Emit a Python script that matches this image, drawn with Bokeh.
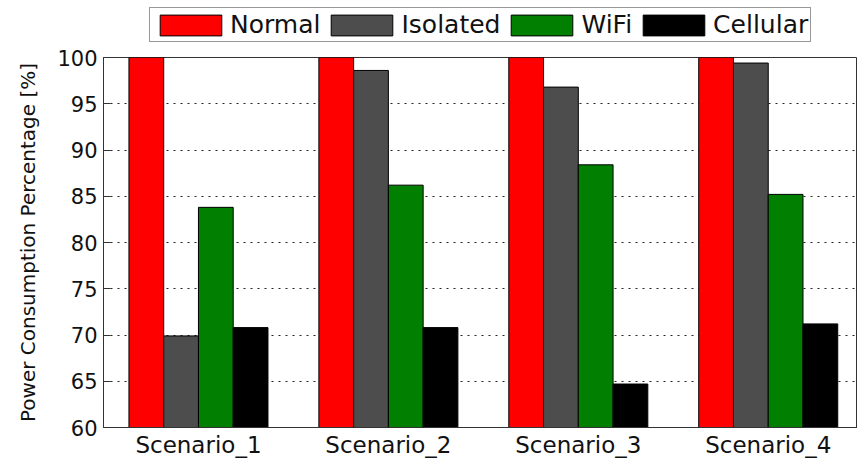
from bokeh.plotting import figure
from bokeh.layouts import column
from bokeh.models import (ColumnDataSource, FixedTicker, Legend, LegendItem,
                          Range1d)
from bokeh.transform import dodge
from bokeh.embed import file_html
from bokeh.resources import INLINE

scenarios = ["Scenario_1", "Scenario_2", "Scenario_3", "Scenario_4"]
normal = [100.0, 100.0, 100.0, 100.0]
isolated = [69.9, 98.6, 96.8, 99.4]
wifi = [83.8, 86.2, 88.4, 85.2]
cellular = [70.8, 70.8, 64.7, 71.2]
series_names = ["Normal", "Isolated", "WiFi", "Cellular"]
colors = ["#ff0000", "#4d4d4d", "#007f00", "#000000"]
y_ticks = [60, 65, 70, 75, 80, 85, 90, 95, 100]

FONT = "DejaVu Sans"
positions = list(range(1, len(scenarios) + 1))
source = ColumnDataSource(dict(x=positions, Normal=normal, Isolated=isolated,
                               WiFi=wifi, Cellular=cellular))
bar_w = 0.183
offsets = [-1.5 * bar_w, -0.5 * bar_w, 0.5 * bar_w, 1.5 * bar_w]

# ---- main chart ----
p = figure(width=857, height=417,
           x_range=Range1d(0.5, 4.47), y_range=Range1d(60, 100),
           output_backend="svg", toolbar_location=None,
           min_border_left=103, min_border_right=0,
           min_border_top=14, min_border_bottom=30)

for name, off, col in zip(series_names, offsets, colors):
    p.vbar(x=dodge("x", off), top=name, bottom=60, width=bar_w,
           source=source, fill_color=col, line_color="black", line_width=1)

p.xaxis.ticker = FixedTicker(ticks=positions)
p.xaxis.major_label_overrides = {pos: s for pos, s in zip(positions, scenarios)}
p.xaxis.major_label_text_font = FONT
p.xaxis.major_label_text_font_size = "23px"
p.xaxis.major_label_text_color = "#111111"
p.xaxis.major_label_standoff = 4
p.xaxis.major_tick_in = 0
p.xaxis.major_tick_out = 0
p.xaxis.minor_tick_line_color = None
p.xaxis.axis_line_color = "#333333"

p.yaxis.ticker = FixedTicker(ticks=y_ticks)
p.yaxis.major_label_text_font = FONT
p.yaxis.major_label_text_font_size = "21px"
p.yaxis.major_label_text_color = "#111111"
p.yaxis.major_label_standoff = 6
p.yaxis.major_tick_in = 7
p.yaxis.major_tick_out = 0
p.yaxis.minor_tick_line_color = None
p.yaxis.axis_line_color = "#333333"
p.yaxis.major_tick_line_color = "#333333"
p.yaxis.axis_label = "Power Consumption Percentage [%]"
p.yaxis.axis_label_text_font = FONT
p.yaxis.axis_label_text_font_size = "20px"
p.yaxis.axis_label_text_font_style = "normal"
p.yaxis.axis_label_text_color = "#111111"
p.yaxis.axis_label_standoff = 14

p.xgrid.visible = False
p.ygrid.ticker = FixedTicker(ticks=y_ticks)
p.ygrid.grid_line_color = "#222222"
p.ygrid.grid_line_dash = "2 5"
p.ygrid.grid_line_width = 1
p.outline_line_color = "#333333"

# ---- legend strip on top ----
lg = figure(width=857, height=43, x_range=Range1d(-20, -19), y_range=Range1d(-20, -19),
            output_backend="svg", toolbar_location=None,
            min_border_left=0, min_border_right=0,
            min_border_top=0, min_border_bottom=0)
lg.axis.visible = False
lg.grid.visible = False
lg.outline_line_color = None
items = []
for name, off, col in zip(series_names, offsets, colors):
    # bars lie far outside this strip's range; they only supply legend swatches
    r = lg.vbar(x=dodge("x", off), top=name, bottom=60, width=bar_w,
                source=source, fill_color=col, line_color="black", line_width=1)
    items.append(LegendItem(label=name, renderers=[r]))

legend = Legend(items=items, orientation="horizontal",
                location=(46, 1),
                glyph_width=77, glyph_height=26,
                label_text_font=FONT, label_text_font_size="25px",
                label_text_color="#111111",
                label_standoff=1, spacing=3, padding=2, margin=0,
                border_line_color="#333333", border_line_width=1,
                background_fill_color="white", background_fill_alpha=1)
lg.add_layout(legend)

layout = column(lg, p, spacing=0)
open("out.html", "w").write(file_html(layout, INLINE))
